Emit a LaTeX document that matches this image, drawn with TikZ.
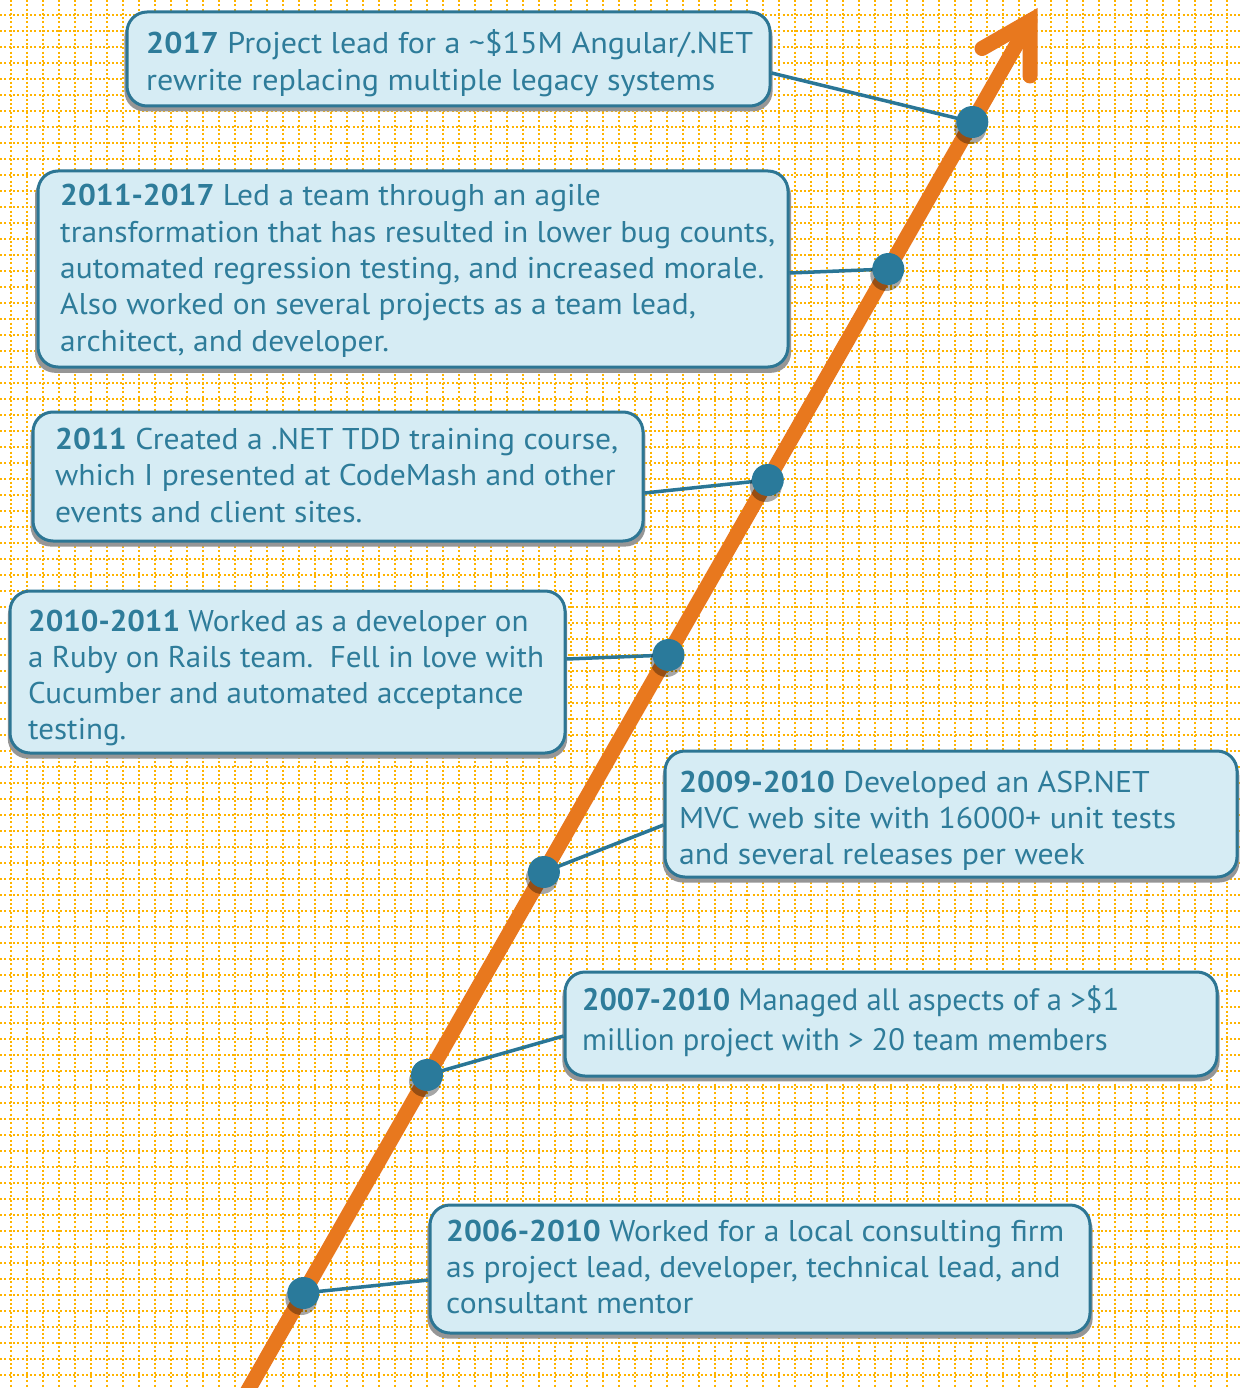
\documentclass[tikz,border=0pt]{standalone}
\usepackage{fontspec}
\setmainfont{PT Sans}
\usepackage{graphicx}
\usetikzlibrary{calc,shadows}
\definecolor{gridc}{RGB}{255,180,0}
\definecolor{boxfill}{RGB}{214,236,244}
\definecolor{boxline}{RGB}{45,118,148}
\definecolor{textc}{RGB}{46,124,154}
\definecolor{dotc}{RGB}{42,122,155}
\definecolor{linkc}{RGB}{42,118,150}
\definecolor{arrowc}{RGB}{232,120,30}
\definecolor{shadowc}{RGB}{150,150,150}
\newcommand\yr[1]{\textbf{#1}}
\newcommand\btext[5]{\fontsize{#1}{#2}\selectfont\sbox0{#4}\scalebox{\fpeval{#3pt/(\the\wd0)}}[1]{\begin{tabular}[t]{@{}l@{}}#5\end{tabular}}}
\tikzset{
  gridline/.style={draw=gridc, line width=1.8pt, dash pattern=on 2pt off 2.3pt},
  tlbox/.style={draw=boxline, line width=3pt, fill=boxfill, rounded corners=20pt, inner sep=0pt,
    drop shadow={shadow xshift=0pt, shadow yshift=-5pt, shadow scale=1.008, fill=shadowc, opacity=1}},
  tltext/.style={text=textc, inner sep=0pt, anchor=base west},
  link/.style={draw=linkc, line width=3.5pt},
  tldot/.style={circle, fill=dotc, minimum size=32pt, inner sep=0pt,
    drop shadow={shadow xshift=-2pt, shadow yshift=-6pt, fill=black, opacity=0.35}},
  shaft/.style={draw=arrowc, line width=15pt, line cap=round},
}
\begin{document}
\begin{tikzpicture}[x=1pt,y=-1pt]
\useasboundingbox (0,0) rectangle (1241,1388);
\clip (0,0) rectangle (1241,1388);
\fill[white] (0,0) rectangle (1241,1388);
% grid
\foreach \gx in {11,27,...,1241} \draw[gridline] (\gx,0) -- (\gx,1388);
\foreach \gy in {15,31,...,1388} \draw[gridline] (0,\gy) -- (1241,\gy);
% arrow
\coordinate (s) at (231,1420);
\coordinate (tip) at (1030,21);
\draw[shaft] (s) -- (tip);
\draw[shaft, line join=miter] ($(tip)+(-48,27.5)$) -- (tip) -- ($(tip)+(0,55)$);
% dot positions
\coordinate (p1) at (972.3,122);
\coordinate (p2) at (888.3,269);
\coordinate (p3) at (767.8,480);
\coordinate (p4) at (668.5,655);
\coordinate (p5) at (543.9,872);
\coordinate (p6) at (427,1075);
\coordinate (p7) at (303.4,1293);
% boxes
\node[tlbox, minimum width=643pt, minimum height=94pt] (b1) at (448.5,59) {};
\node[tlbox, minimum width=750pt, minimum height=196pt] (b2) at (413,269) {};
\node[tlbox, minimum width=610pt, minimum height=129pt] (b3) at (338,476.5) {};
\node[tlbox, minimum width=555pt, minimum height=162pt] (b4) at (287.5,672) {};
\node[tlbox, minimum width=572pt, minimum height=126pt] (b5) at (951,814) {};
\node[tlbox, minimum width=652pt, minimum height=104pt] (b6) at (891,1024) {};
\node[tlbox, minimum width=660pt, minimum height=128pt] (b7) at (760,1269) {};
% texts
\node[tltext] (t1) at (146,54) {\btext{30}{36.5}{607}{\yr{2017} Project lead for a \textasciitilde\$15M Angular/.NET}{\yr{2017} Project lead for a \textasciitilde\$15M Angular/.NET\\ rewrite replacing multiple legacy systems}};
\node[tltext] (t2) at (60,206) {\btext{30}{36.3}{715}{transformation that has resulted in lower bug counts,}{\yr{2011-2017} Led a team through an agile\\ transformation that has resulted in lower bug counts,\\ automated regression testing, and increased morale.\\ Also worked on several projects as a team lead,\\ architect, and developer.}};
\node[tltext] (t3) at (55,449) {\btext{30}{36.5}{563}{which I presented at CodeMash and other}{\yr{2011} Created a .NET TDD training course,\\ which I presented at CodeMash and other\\ events and client sites.}};
\node[tltext] (t4) at (28,631) {\btext{30}{36.3}{516}{Cucumber and automated acceptance}{\yr{2010-2011} Worked as a developer on\\ a Ruby on Rails team.\ \ Fell in love with\\ Cucumber and automated acceptance\\ testing.}};
\node[tltext] (t5) at (679,792) {\btext{30}{36.3}{497}{MVC web site with 16000+ unit tests}{\yr{2009-2010} Developed an ASP.NET\\ MVC web site with 16000+ unit tests\\ and several releases per week}};
\node[tltext] (t6) at (582,1010) {\btext{31}{40}{537}{million project with > 20 team members}{\yr{2007-2010} Managed all aspects of a >\$1\\ million project with > 20 team members}};
\node[tltext] (t7) at (446,1241) {\btext{30}{36.3}{618}{as project lead, developer, technical lead, and}{\yr{2006-2010} Worked for a local consulting firm\\ as project lead, developer, technical lead, and\\ consultant mentor}};
% connectors
\draw[link] ($(b1.east)+(0,14)$) -- (p1);
\draw[link] ($(b2.east)+(0,4)$) -- (p2);
\draw[link] ($(b3.east)+(0,16.5)$) -- (p3);
\draw[link] ($(b4.east)+(0,-13)$) -- (p4);
\draw[link] ($(b5.west)+(0,11)$) -- (p5);
\draw[link] ($(b6.west)+(0,12)$) -- (p6);
\draw[link] ($(b7.west)+(0,11)$) -- (p7);
% dots
\node[tldot] (d1) at (p1) {};
\node[tldot] (d2) at (p2) {};
\node[tldot] (d3) at (p3) {};
\node[tldot] (d4) at (p4) {};
\node[tldot] (d5) at (p5) {};
\node[tldot] (d6) at (p6) {};
\node[tldot] (d7) at (p7) {};
\end{tikzpicture}
\end{document}
